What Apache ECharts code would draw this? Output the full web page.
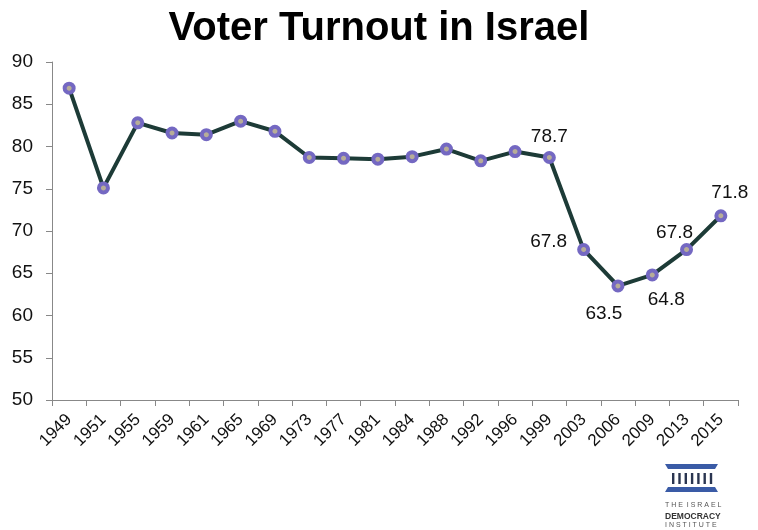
<!DOCTYPE html>
<html>
<head>
<meta charset="utf-8">
<script src="https://cdn.jsdelivr.net/npm/echarts@6/dist/echarts.min.js"></script>
<style>html,body{margin:0;padding:0;background:#fff}#c{width:758px;height:530px}</style>
</head>
<body>
<div id="c"></div>
<script>
var years = ['1949','1951','1955','1959','1961','1965','1969','1973','1977','1981','1984','1988','1992','1996','1999','2003','2006','2009','2013','2015'];
var turnout = [86.9, 75.1, 82.8, 81.6, 81.4, 83.0, 81.8, 78.7, 78.6, 78.5, 78.8, 79.7, 78.3, 79.4, 78.7, 67.8, 63.5, 64.8, 67.8, 71.8];
var labelled = {'1999':'top','2003':'left','2006':'bottom','2009':'bottom','2013':'top','2015':'top'};
var labelOffsets = {'1999':[0,3],'2003':[-2,-8],'2006':[-14,4],'2009':[14,1],'2013':[-12,7],'2015':[9,1]};
var yTicks = [50,55,60,65,70,75,80,85,90];
var FONT = '"Liberation Sans", Arial, sans-serif';

var data = years.map(function(y, i){
  var d = {value: turnout[i]};
  if (labelled[y]) {
    d.label = {show: true, position: labelled[y], offset: labelOffsets[y], distance: 8,
      formatter: function(p){ return p.value.toFixed(1); },
      fontSize: 19, color: '#111', fontFamily: FONT};
  }
  return d;
});

var chart = echarts.init(document.getElementById('c'));
var logoBlue = '#3a5ba6';
var cols = [];
for (var k = 0; k < 7; k++) {
  cols.push({type:'rect', shape:{x:672 + k*6.3, y:473, width:2.4, height:11}, style:{fill:'#2a3550'}});
}
chart.setOption({
  backgroundColor: '#fff',
  animation: false,
  title: {text: 'Voter Turnout in Israel', left: 'center', top: 4,
    textStyle: {fontFamily: FONT, fontSize: 40, fontWeight: 'bold', color: '#000'}},
  grid: {left: 52, right: 20, top: 62, bottom: 130},
  xAxis: {type: 'category', data: years, boundaryGap: true,
    axisLine: {lineStyle: {color: '#888', width: 1}},
    axisTick: {show: true, length: 6, lineStyle: {color: '#888'}},
    axisLabel: {rotate: 45, fontSize: 17, color: '#111', fontFamily: FONT, margin: 17, interval: 0}},
  yAxis: {type: 'value', min: yTicks[0], max: yTicks[yTicks.length-1], interval: 5,
    splitLine: {show: false},
    axisLine: {show: true, lineStyle: {color: '#888', width: 1}},
    axisTick: {show: true, length: 6, lineStyle: {color: '#888'}},
    axisLabel: {fontSize: 19, color: '#111', fontFamily: FONT, margin: 19}},
  series: [{type: 'line', data: data, symbol: 'circle', symbolSize: 9,
    lineStyle: {color: '#1d3b37', width: 4},
    itemStyle: {color: '#b7ad98', borderColor: '#7468c2', borderWidth: 4},
    label: {show: false}}],
  graphic: [
    {type:'polygon', shape:{points:[[665,464],[718,464],[715,469],[668,469]]}, style:{fill:logoBlue}},
    {type:'group', children: cols},
    {type:'polygon', shape:{points:[[668,487],[715,487],[718,492],[665,492]]}, style:{fill:logoBlue}},
    {type:'text', left: 665, top: 502, style:{text:'T H E  I S R A E L', fontSize: 7, fill:'#555', fontFamily: FONT}},
    {type:'text', left: 665, top: 512, style:{text:'DEMOCRACY', fontSize: 8.5, fontWeight:'bold', fill:'#333', fontFamily: FONT}},
    {type:'text', left: 665, top: 522, style:{text:'I N S T I T U T E', fontSize: 7, fill:'#555', fontFamily: FONT}}
  ]
});
</script>
</body>
</html>
